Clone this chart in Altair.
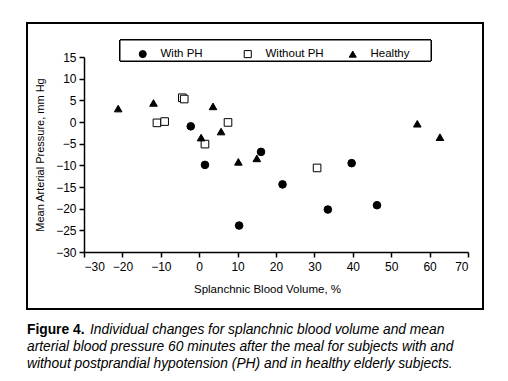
import altair as alt
import pandas as pd

groups = ["With PH", "Without PH", "Healthy"]

with_ph_x = [-2.2, 1.5, 10.4, 16.1, 21.7, 33.5, 39.7, 46.3]
with_ph_y = [-1.0, -9.9, -23.9, -6.9, -14.4, -20.2, -9.5, -19.2]

without_ph_x = [-11.0, -9.0, -4.4, -3.9, 1.5, 7.5, 30.7]
without_ph_y = [-0.2, 0.1, 5.6, 5.3, -5.1, -0.1, -10.6]

healthy_x = [-21.1, -11.9, 0.5, 3.6, 5.7, 10.2, 15.0, 56.8, 62.7]
healthy_y = [3.1, 4.4, -3.6, 3.6, -2.2, -9.2, -8.4, -0.4, -3.5]

x_ticks = [-30, -20, -10, 0, 10, 20, 30, 40, 50, 60, 70]
y_ticks = [15, 10, 5, 0, -5, -10, -15, -20, -25, -30]

caption_bold = "Figure 4."
caption_lines = [
    "Individual changes for splanchnic blood volume and mean",
    "arterial blood pressure 60 minutes after the meal for subjects with and",
    "without postprandial hypotension (PH) and in healthy elderly subjects.",
]

rows = []
for g, xs, ys in zip(groups, [with_ph_x, without_ph_x, healthy_x], [with_ph_y, without_ph_y, healthy_y]):
    for xv, yv in zip(xs, ys):
        rows.append({"group": g, "sbv": xv, "map": yv})
df = pd.DataFrame(rows)

FONT = "Liberation Sans, Arial"
W, H = 384, 195

legend_def = alt.Legend(
    title=None,
    orient="none",
    legendX=53,
    legendY=-9,
    direction="horizontal",
    gridAlign="all",
    columnPadding=23,
    labelFont=FONT,
    labelFontSize=11.5,
    labelColor="black",
    labelOffset=12,
    symbolSize=50,
    symbolStrokeColor="black",
    symbolStrokeWidth=1,
)

points = alt.Chart(df).mark_point(filled=False, strokeWidth=1, opacity=1, size=58).encode(
    x=alt.X("sbv:Q", scale=alt.Scale(domain=[-30, 70], nice=False),
            axis=alt.Axis(values=x_ticks, title="Splanchnic Blood Volume, %")),
    y=alt.Y("map:Q", scale=alt.Scale(domain=[-30, 15], nice=False),
            axis=alt.Axis(values=y_ticks, title="Mean Arterial Pressure, mm Hg")),
    shape=alt.Shape("group:N", scale=alt.Scale(domain=groups, range=["circle", "square", "triangle-up"]),
                    legend=legend_def),
    fill=alt.Fill("group:N", scale=alt.Scale(domain=groups, range=["black", "white", "black"]),
                  legend=legend_def),
    stroke=alt.Stroke("group:N", scale=alt.Scale(domain=groups, range=["black", "black", "black"]),
                      legend=legend_def),
)

frame = alt.Chart(df).mark_rect(fill="transparent", stroke="black", strokeWidth=1.5).encode(
    x=alt.value(-57), x2=alt.value(399), y=alt.value(-34), y2=alt.value(252)
)

legend_box = alt.Chart(df).mark_rect(fill="white", stroke="black", strokeWidth=1).encode(
    x=alt.value(36), x2=alt.value(347), y=alt.value(-17), y2=alt.value(4)
)

CAP = 13.8
cap_bold = alt.Chart(pd.DataFrame({"t": [caption_bold]})).mark_text(
    font=FONT, fontSize=CAP, fontWeight="bold", align="left", baseline="middle", color="black"
).encode(x=alt.value(-57), y=alt.value(273), text="t:N")

cap1 = alt.Chart(pd.DataFrame({"t": [caption_lines[0]]})).mark_text(
    font=FONT, fontSize=CAP, fontStyle="italic", align="left", baseline="middle", color="black"
).encode(x=alt.value(6), y=alt.value(273), text="t:N")

cap2 = alt.Chart(pd.DataFrame({"t": [caption_lines[1]]})).mark_text(
    font=FONT, fontSize=CAP, fontStyle="italic", align="left", baseline="middle", color="black"
).encode(x=alt.value(-57), y=alt.value(290), text="t:N")

cap3 = alt.Chart(pd.DataFrame({"t": [caption_lines[2]]})).mark_text(
    font=FONT, fontSize=CAP, fontStyle="italic", align="left", baseline="middle", color="black"
).encode(x=alt.value(-57), y=alt.value(307), text="t:N")

chart = alt.layer(frame, legend_box, points, cap_bold, cap1, cap2, cap3).properties(
    width=W, height=H,
    autosize=alt.AutoSizeParams(type="none"),
    padding={"left": 76, "top": 49, "right": 24, "bottom": 120},
    background="white",
).configure_view(strokeOpacity=0).configure_axis(
    grid=False,
    domainColor="black",
    domainWidth=1.5,
    tickColor="black",
    tickWidth=1.5,
    tickSize=5,
    labelFont=FONT,
    labelFontSize=12,
    labelColor="black",
    titleFont=FONT,
    titleFontSize=11,
    titleFontWeight="normal",
    titleColor="black",
).configure_axisX(
    labelPadding=4, titlePadding=11, titleFontSize=11.5, titleX=183
).configure_axisY(
    labelPadding=3, titlePadding=10
)

chart.save("out.html", embed_options={"renderer": "svg", "actions": False})
